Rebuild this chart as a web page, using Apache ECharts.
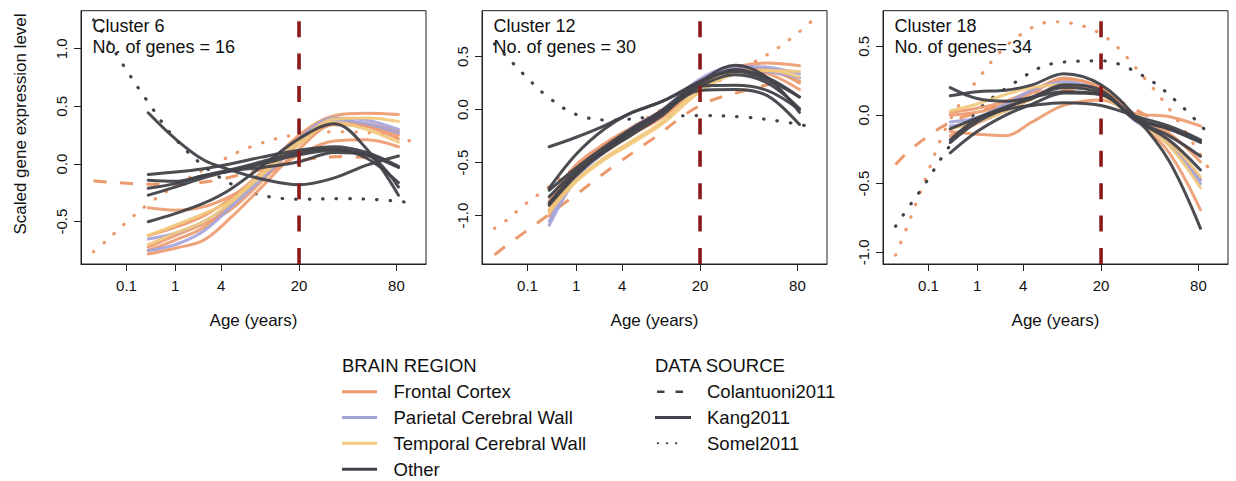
<!DOCTYPE html>
<html><head><meta charset="utf-8">
<script src="https://cdn.jsdelivr.net/npm/echarts@6/dist/echarts.min.js"></script>
<style>html,body{margin:0;padding:0;background:#fff}#c{width:1236px;height:481px}</style>
</head><body><div id="c"></div>
<script>
// ---------- data ----------
const xTickAges = [0.1, 1, 4, 20, 80];
const xTickLabels = ['0.1', '1', '4', '20', '80'];
const cutoffAge = 20;
const panelTitles = ['Cluster 6', 'Cluster 12', 'Cluster 18'];
const panelGenes = ['No. of genes = 16', 'No. of genes = 30', 'No. of genes= 34'];
const yTicks6 = [-0.5, 0, 0.5, 1.0];
const yTicks12 = [-1.0, -0.5, 0, 0.5];
const yTicks18 = [-1.0, -0.5, 0, 0.5];

const kangAges = [0.33, 1, 2.5, 5, 10, 20, 35, 55, 82];
const somelAges = [0.005, 0.02, 0.08, 0.3, 1, 3, 8, 20, 40, 65, 94];
const colantuoniAges = [0.005, 0.02, 0.08, 0.3, 1, 3, 8, 20, 40, 62];

// Cluster 6
const c6KangFrontal = [
  [-0.62, -0.55, -0.45, -0.30, -0.07, 0.25, 0.42, 0.44, 0.43],
  [-0.75, -0.66, -0.55, -0.36, -0.10, 0.22, 0.40, 0.33, 0.22],
  [-0.78, -0.73, -0.66, -0.47, -0.20, 0.13, 0.34, 0.33, 0.25],
  [-0.38, -0.40, -0.37, -0.28, -0.12, 0.08, 0.20, 0.21, 0.15],
  [-0.72, -0.62, -0.52, -0.40, -0.15, 0.18, 0.36, 0.35, 0.28]
];
const c6KangParietal = [
  [-0.65, -0.60, -0.50, -0.35, -0.10, 0.22, 0.40, 0.38, 0.30],
  [-0.75, -0.70, -0.58, -0.38, -0.13, 0.18, 0.38, 0.35, 0.27]
];
const c6KangTemporal = [
  [-0.62, -0.53, -0.43, -0.32, -0.08, 0.20, 0.39, 0.40, 0.37],
  [-0.70, -0.60, -0.50, -0.34, -0.10, 0.17, 0.36, 0.30, 0.19]
];
const c6KangOther = [
  [0.445, 0.22, 0.035, -0.05, -0.13, -0.18, -0.12, -0.01, 0.07],
  [-0.09, -0.07, -0.04, 0.00, 0.06, 0.12, 0.15, 0.10, -0.02],
  [-0.14, -0.15, -0.10, -0.05, 0.02, 0.10, 0.13, 0.05, -0.16],
  [-0.21, -0.17, -0.10, -0.06, 0.00, 0.08, 0.12, 0.08, -0.03],
  [-0.27, -0.20, -0.12, -0.06, -0.03, 0.02, 0.10, 0.08, -0.20],
  [-0.50, -0.43, -0.34, -0.22, -0.02, 0.22, 0.35, 0.13, -0.27]
];
const c6SomelFrontal = [-0.76, -0.67, -0.53, -0.36, -0.19, -0.02, 0.15, 0.26, 0.28, 0.26, 0.20];
const c6SomelOther = [1.25, 1.10, 0.86, 0.56, 0.22, -0.06, -0.245, -0.305, -0.30, -0.31, -0.335];
const c6ColantuoniFrontal = [-0.145, -0.155, -0.165, -0.175, -0.175, -0.15, -0.07, 0.03, 0.065, 0.05];

// Cluster 12
const c12KangFrontal = [
  [-0.90, -0.55, -0.33, -0.18, -0.02, 0.27, 0.40, 0.44, 0.415],
  [-0.95, -0.60, -0.38, -0.22, -0.06, 0.24, 0.37, 0.34, 0.19],
  [-1.00, -0.62, -0.40, -0.24, -0.07, 0.22, 0.36, 0.36, 0.27],
  [-0.86, -0.52, -0.32, -0.17, 0.00, 0.26, 0.39, 0.38, 0.25]
];
const c12KangParietal = [
  [-1.09, -0.65, -0.38, -0.18, 0.00, 0.29, 0.41, 0.40, 0.34],
  [-1.05, -0.64, -0.40, -0.22, -0.04, 0.26, 0.38, 0.36, 0.30]
];
const c12KangTemporal = [
  [-0.93, -0.66, -0.45, -0.30, -0.11, 0.20, 0.36, 0.37, 0.31],
  [-0.97, -0.68, -0.47, -0.32, -0.13, 0.17, 0.34, 0.37, 0.36]
];
const c12KangOther = [
  [-0.35, -0.26, -0.15, -0.03, 0.08, 0.25, 0.38, 0.30, 0.12],
  [-0.74, -0.42, -0.18, -0.03, 0.08, 0.27, 0.42, 0.30, -0.025],
  [-0.76, -0.55, -0.35, -0.18, -0.01, 0.22, 0.33, 0.25, 0.01],
  [-0.82, -0.58, -0.38, -0.21, -0.03, 0.18, 0.19, 0.13, -0.14],
  [-0.88, -0.60, -0.40, -0.24, -0.05, 0.22, 0.23, 0.18, 0.00],
  [-0.90, -0.62, -0.38, -0.20, 0.00, 0.26, 0.36, 0.28, 0.12]
];
const c12SomelFrontal = [-1.12, -1.04, -0.90, -0.74, -0.54, -0.30, -0.05, 0.18, 0.40, 0.60, 0.83];
const c12SomelOther = [0.62, 0.50, 0.33, 0.125, -0.045, -0.10, -0.07, -0.055, -0.07, -0.11, -0.16];
const c12ColantuoniFrontal = [-1.37, -1.28, -1.16, -1.00, -0.80, -0.55, -0.28, 0.04, 0.18, 0.255];

// Cluster 18
const c18KangFrontal = [
  [0.02, 0.05, 0.10, 0.18, 0.26, 0.20, -0.02, -0.13, -0.34],
  [-0.15, -0.06, 0.03, 0.12, 0.22, 0.17, -0.04, -0.27, -0.69],
  [0.00, 0.02, 0.08, 0.16, 0.27, 0.19, -0.03, -0.20, -0.47],
  [-0.12, -0.14, -0.15, -0.05, 0.07, 0.11, 0.01, -0.01, -0.08]
];
const c18KangParietal = [
  [-0.05, -0.02, 0.08, 0.18, 0.24, 0.17, -0.04, -0.20, -0.47],
  [-0.08, -0.05, 0.04, 0.13, 0.21, 0.16, -0.05, -0.21, -0.50]
];
const c18KangTemporal = [
  [0.03, 0.08, 0.15, 0.20, 0.22, 0.15, -0.04, -0.22, -0.53],
  [-0.10, -0.05, 0.03, 0.12, 0.20, 0.16, -0.03, -0.19, -0.45]
];
const c18KangOther = [
  [0.14, 0.17, 0.18, 0.22, 0.30, 0.22, -0.02, -0.33, -0.825],
  [0.20, 0.12, 0.10, 0.13, 0.17, 0.15, -0.04, -0.18, -0.40],
  [-0.18, -0.03, 0.04, 0.07, 0.09, 0.07, -0.01, -0.08, -0.18],
  [-0.275, -0.12, 0.00, 0.08, 0.16, 0.15, -0.04, -0.15, -0.30],
  [-0.20, -0.05, 0.05, 0.13, 0.20, 0.16, -0.02, -0.10, -0.19],
  [-0.10, -0.02, 0.06, 0.12, 0.22, 0.18, -0.03, -0.10, -0.20]
];
const c18SomelFrontal = [-1.02, -0.80, -0.47, -0.06, 0.255, 0.54, 0.68, 0.59, 0.26, -0.08, -0.43];
const c18SomelOther = [-0.81, -0.68, -0.50, -0.24, 0.03, 0.225, 0.375, 0.395, 0.275, 0.065, -0.165];
const c18ColantuoniFrontal = [-0.36, -0.27, -0.17, -0.06, 0.02, 0.10, 0.18, 0.15, 0.00, -0.15];

const legendRegions = ['Frontal Cortex', 'Parietal Cerebral Wall', 'Temporal Cerebral Wall', 'Other'];
const legendSources = ['Colantuoni2011', 'Kang2011', 'Somel2011'];

// ---------- styling / layout ----------
const FONT = '"Liberation Sans", Arial, Helvetica, sans-serif';
const COL = { frontal: '#EC996C', parietal: '#A2A2DA', temporal: '#F2C87A', other: '#42424A' };
const RED = '#8B1A1A';
const TXT = '#111';
const gridLefts = [81, 482, 883];
const yRanges = [[-0.867, 1.33], [-1.456, 0.934], [-1.085, 0.76]];
const yTickSets = [yTicks6, yTicks12, yTicks18];
const X_MIN = 0.153, X_MAX = 3.257;

const tx = a => Math.pow(a, 0.25);
const xTickVals = xTickAges.map(tx);

const panels = [
  { kF: c6KangFrontal, kP: c6KangParietal, kT: c6KangTemporal, kO: c6KangOther, sF: c6SomelFrontal, sO: c6SomelOther, cF: c6ColantuoniFrontal },
  { kF: c12KangFrontal, kP: c12KangParietal, kT: c12KangTemporal, kO: c12KangOther, sF: c12SomelFrontal, sO: c12SomelOther, cF: c12ColantuoniFrontal },
  { kF: c18KangFrontal, kP: c18KangParietal, kT: c18KangTemporal, kO: c18KangOther, sF: c18SomelFrontal, sO: c18SomelOther, cF: c18ColantuoniFrontal }
];

function styleFor(kind, color) {
  if (kind === 'dotted') return { color, width: 3.2, type: [0.5, 13], cap: 'round', opacity: 1 };
  if (kind === 'dashed') return { color, width: 3, type: [13, 13.5], cap: 'butt', opacity: 1 };
  return { color, width: 3, type: 'solid', cap: 'round', opacity: color === COL.other ? 0.95 : 0.9 };
}
function mk(gi, ages, vals, color, kind, z) {
  return {
    type: 'line', xAxisIndex: gi, yAxisIndex: gi, silent: true, animation: false,
    showSymbol: false, symbol: 'none', smooth: 0.35, z: z,
    data: ages.map((a, i) => [tx(a), vals[i]]),
    lineStyle: styleFor(kind, color)
  };
}

const grids = [], xAxes = [], yAxes = [], series = [], titles = [];
panels.forEach((p, gi) => {
  grids.push({ left: gridLefts[gi], top: 10.7, width: 345, height: 253.3, show: true, borderColor: '#222', borderWidth: 1, backgroundColor: 'transparent' });
  xAxes.push({
    type: 'value', gridIndex: gi, min: X_MIN, max: X_MAX, position: 'bottom',
    axisLine: { show: true, onZero: false, lineStyle: { color: '#222', width: 1 } }, splitLine: { show: false },
    axisTick: { show: true, inside: false, length: 7, lineStyle: { color: '#222', width: 1 }, customValues: xTickVals },
    axisLabel: {
      customValues: xTickVals, margin: 14, fontSize: 15, color: TXT, fontFamily: FONT,
      formatter: v => { const i = xTickVals.findIndex(t => Math.abs(t - v) < 1e-6); return i >= 0 ? xTickLabels[i] : ''; }
    },
    name: 'Age (years)', nameLocation: 'middle', nameGap: 48,
    nameTextStyle: { fontSize: 17, color: TXT, fontFamily: FONT }
  });
  yAxes.push({
    type: 'value', gridIndex: gi, min: yRanges[gi][0], max: yRanges[gi][1], position: 'left',
    axisLine: { show: true, onZero: false, lineStyle: { color: '#222', width: 1 } }, splitLine: { show: false },
    axisTick: { show: true, inside: false, length: 7, lineStyle: { color: '#222', width: 1 }, customValues: yTickSets[gi] },
    axisLabel: { customValues: yTickSets[gi], rotate: 90, margin: 12, fontSize: 15, color: TXT, fontFamily: FONT, formatter: v => v.toFixed(1) }
  });
  titles.push({
    text: panelTitles[gi] + '\n' + panelGenes[gi], left: gridLefts[gi] + 11.5, top: 15, padding: 0,
    textStyle: { fontSize: 18, fontWeight: 'normal', lineHeight: 21.3, color: TXT, fontFamily: FONT }
  });
  series.push(mk(gi, somelAges, p.sF, COL.frontal, 'dotted', 2));
  series.push(mk(gi, somelAges, p.sO, COL.other, 'dotted', 2));
  series.push(mk(gi, colantuoniAges, p.cF, COL.frontal, 'dashed', 3));
  p.kF.forEach(v => series.push(mk(gi, kangAges, v, COL.frontal, 'solid', 4)));
  p.kP.forEach(v => series.push(mk(gi, kangAges, v, COL.parietal, 'solid', 4)));
  p.kT.forEach(v => series.push(mk(gi, kangAges, v, COL.temporal, 'solid', 4)));
  p.kO.forEach(v => series.push(mk(gi, kangAges, v, COL.other, 'solid', 5)));
  series.push({
    type: 'line', xAxisIndex: gi, yAxisIndex: gi, silent: true, animation: false, showSymbol: false, symbol: 'none', z: 8,
    data: [[tx(cutoffAge), yRanges[gi][0]], [tx(cutoffAge), yRanges[gi][1]]],
    lineStyle: { color: RED, width: 3.6, type: [16, 16.4], cap: 'butt' }
  });
});

// legend (drawn as graphic elements)
const graphic = [];
graphic.push({ type: 'text', rotation: Math.PI / 2, x: 20, y: 124,
  style: { text: 'Scaled gene expression level', fill: TXT, font: '17px ' + FONT, align: 'center', verticalAlign: 'middle' } });
const rowY = [391.7, 417.4, 443.3, 469.3];
graphic.push({ type: 'text', x: 342, y: 365, style: { text: 'BRAIN REGION', fill: TXT, font: '18.5px ' + FONT, verticalAlign: 'middle' } });
const regionCols = [COL.frontal, COL.parietal, COL.temporal, COL.other];
legendRegions.forEach((name, i) => {
  graphic.push({ type: 'line', shape: { x1: 342, y1: rowY[i], x2: 377, y2: rowY[i] }, style: { stroke: regionCols[i], lineWidth: 3 } });
  graphic.push({ type: 'text', x: 393.5, y: rowY[i], style: { text: name, fill: TXT, font: '18.5px ' + FONT, verticalAlign: 'middle' } });
});
graphic.push({ type: 'text', x: 655, y: 365, style: { text: 'DATA SOURCE', fill: TXT, font: '18.5px ' + FONT, verticalAlign: 'middle' } });
const srcStyles = [
  { x1: 657, x2: 684, lineWidth: 2.6, lineDash: [7.5, 11], lineCap: 'butt' },
  { x1: 655, x2: 691, lineWidth: 3, lineDash: null, lineCap: 'butt' },
  { x1: 657.7, x2: 685, lineWidth: 2, lineDash: [0.5, 8.6], lineCap: 'round' }
];
legendSources.forEach((name, i) => {
  const s = srcStyles[i];
  graphic.push({ type: 'line', shape: { x1: s.x1, y1: rowY[i], x2: s.x2, y2: rowY[i] },
    style: { stroke: COL.other, lineWidth: s.lineWidth, lineDash: s.lineDash, lineCap: s.lineCap } });
  graphic.push({ type: 'text', x: 707, y: rowY[i], style: { text: name, fill: TXT, font: '18.5px ' + FONT, verticalAlign: 'middle' } });
});

const chart = echarts.init(document.getElementById('c'), null, { renderer: 'svg' });
chart.setOption({
  animation: false, backgroundColor: '#fff',
  textStyle: { fontFamily: FONT },
  title: titles, grid: grids, xAxis: xAxes, yAxis: yAxes, series: series, graphic: graphic
});
</script></body></html>
